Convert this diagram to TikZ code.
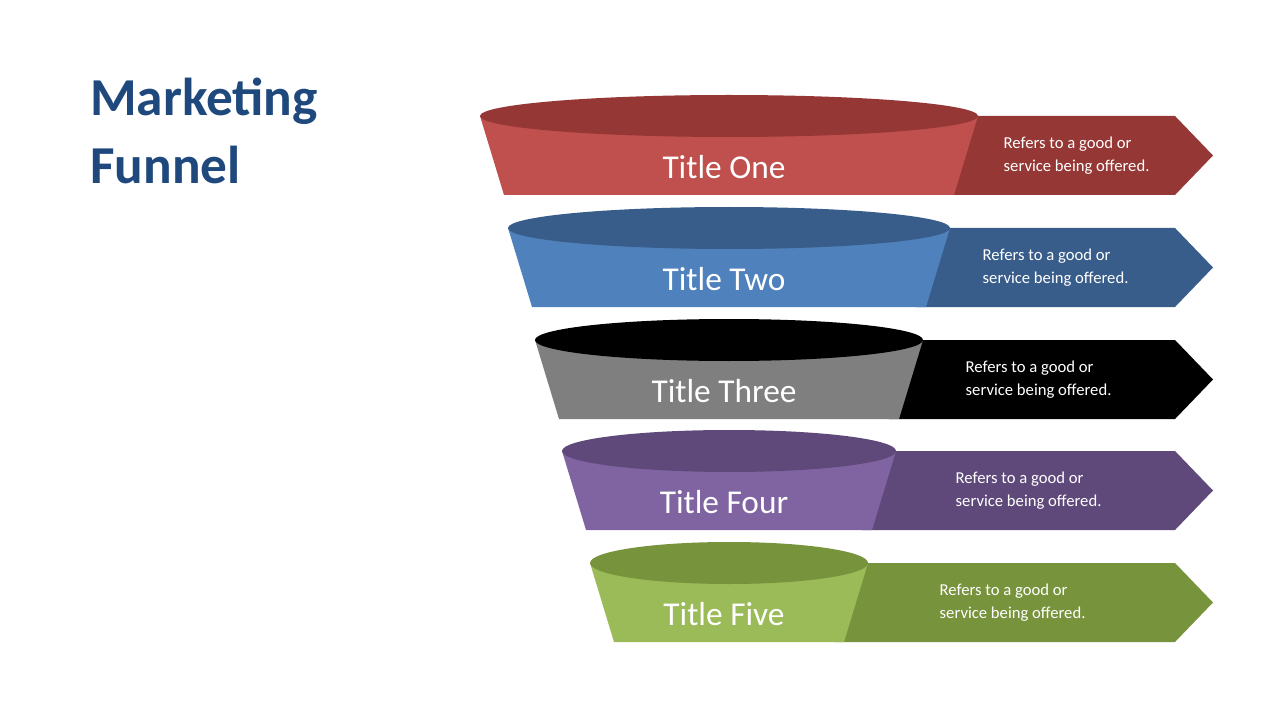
\documentclass[tikz,border=0pt]{standalone}
\usepackage{fontspec}
\setmainfont{Carlito}
\definecolor{hd}{HTML}{1F497D}
\definecolor{b1}{HTML}{C0504D}\definecolor{d1}{HTML}{953735}
\definecolor{b2}{HTML}{4F81BD}\definecolor{d2}{HTML}{385D8A}
\definecolor{b3}{HTML}{7F7F7F}\definecolor{d3}{HTML}{000000}
\definecolor{b4}{HTML}{8064A2}\definecolor{d4}{HTML}{5F497A}
\definecolor{b5}{HTML}{9BBB59}\definecolor{d5}{HTML}{77933C}
\begin{document}
\begin{tikzpicture}[x=0.75pt,y=-0.75pt,
  ttl/.style={text=white,font=\fontsize{25}{30}\selectfont},
  dsc/.style={text=white,font=\fontsize{12.5}{17}\selectfont,align=left,anchor=west}]
\useasboundingbox (0,0) rectangle (1280,720);
\node[anchor=north west,text=hd,font=\fontsize{40}{51}\selectfont\bfseries,align=left,inner sep=0] (head) at (90,78) {Marketing\\Funnel};
\foreach \i/\cy/\rx/\tl/\tx/\nm in {1/116/249/One/1003/a,2/228/221/Two/982/b,3/340/194/Three/965/c,4/451/167/Four/955/d,5/563/139/Five/939/e}{
  \pgfmathsetmacro\yb{\cy+79}
  \pgfmathsetmacro\ym{\cy+39.5}
  \pgfmathsetmacro\xl{729-\rx}
  \pgfmathsetmacro\xr{729+\rx}
  \pgfmathsetmacro\bl{729-\rx+24}
  \pgfmathsetmacro\br{729+\rx-24}
  \fill[d\i] (\xr-10,\cy) -- (1175,\cy) -- (1213,\ym) -- (1175,\yb) -- (\br-10,\yb) -- cycle;
  \fill[b\i] (\xl,\cy) -- (\xr,\cy) -- (\br,\yb) -- (\bl,\yb) -- cycle;
  \fill[d\i] (729,\cy) ellipse [x radius=\rx, y radius=21];
  \node[ttl] (t\nm) at (724,\cy+51) {Title \tl};
  \node[dsc] (s\nm) at (\tx-4,\ym) {Refers to a good or\\service being offered.};
}
\end{tikzpicture}
\end{document}
